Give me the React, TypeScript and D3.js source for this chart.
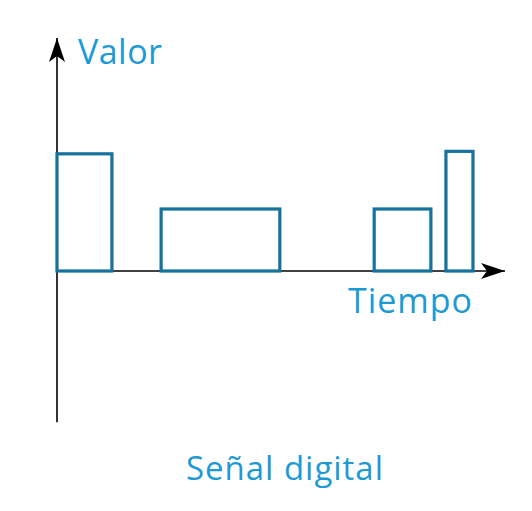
import React, { useEffect, useRef } from 'react';
import * as d3 from 'd3';

// pulse start / end times and heights (arbitrary units)
const pulseStart = [0, 23.5, 71.6, 87.8];
const pulseEnd = [12.4, 50.3, 84.4, 93.9];
const pulseValue = [1.89, 1.0, 1.0, 1.93];

const xLabel = 'Tiempo';
const yLabel = 'Valor';
const title = 'Señal digital';

const App = () => {
  const ref = useRef(null);

  useEffect(() => {
    const svg = d3.select(ref.current);
    svg.selectAll('*').remove();

    const textColor = '#1b9ad6';
    const lineColor = '#15719e';
    const font = '"Open Sans", Lato, sans-serif';

    // time -> px, value -> px
    const x = d3.scaleLinear().domain([0, 100]).range([57, 500]);
    const y = d3.scaleLinear().domain([0, 1]).range([271, 209]);

    // big notched arrowhead
    const defs = svg.append('defs');
    defs.append('marker')
      .attr('id', 'arr')
      .attr('viewBox', '0 0 24 16')
      .attr('refX', 24)
      .attr('refY', 8)
      .attr('markerWidth', 24)
      .attr('markerHeight', 16)
      .attr('markerUnits', 'userSpaceOnUse')
      .attr('orient', 'auto')
      .append('path')
      .attr('d', 'M0,0 L24,8 L0,16 L6,8 Z')
      .attr('fill', '#000');

    // axes
    svg.append('line')
      .attr('x1', x(0)).attr('y1', y(-2.44))
      .attr('x2', x(0)).attr('y2', 38)
      .attr('stroke', '#000')
      .attr('stroke-width', 1.6)
      .attr('marker-end', 'url(#arr)');

    svg.append('line')
      .attr('x1', x(0)).attr('y1', y(0))
      .attr('x2', 505).attr('y2', y(0))
      .attr('stroke', '#000')
      .attr('stroke-width', 1.6)
      .attr('marker-end', 'url(#arr)');

    // pulses
    svg.append('g')
      .selectAll('rect')
      .data(pulseStart)
      .join('rect')
      .attr('x', (d) => x(d))
      .attr('y', (d, i) => y(pulseValue[i]))
      .attr('width', (d, i) => x(pulseEnd[i]) - x(d))
      .attr('height', (d, i) => y(0) - y(pulseValue[i]))
      .attr('fill', 'none')
      .attr('stroke', lineColor)
      .attr('stroke-width', 3.2);

    // labels
    svg.append('text')
      .attr('x', 78).attr('y', 64)
      .attr('fill', textColor)
      .style('font', `34px ${font}`)
      .attr('textLength', 84)
      .text(yLabel);

    svg.append('text')
      .attr('x', 348).attr('y', 313)
      .attr('fill', textColor)
      .style('font', `34px ${font}`)
      .attr('textLength', 124)
      .text(xLabel);

    svg.append('text')
      .attr('x', 186).attr('y', 480)
      .attr('fill', textColor)
      .style('font', `33px ${font}`)
      .attr('textLength', 197)
      .text(title);
  }, []);

  return (
    <svg ref={ref} width={532} height={511} style={{ position: 'absolute', left: 0, top: 0, background: '#fff' }} />
  );
};

export default App;
